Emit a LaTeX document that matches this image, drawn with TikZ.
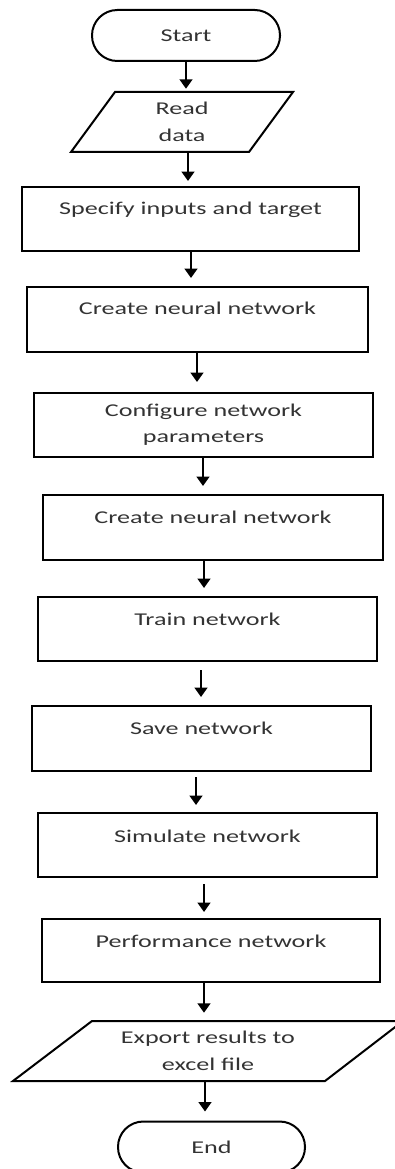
\documentclass[tikz,border=0pt]{standalone}
\usepackage{fontspec}
\setmainfont[FakeStretch=1.45]{Carlito}
\usetikzlibrary{arrows.meta}

\begin{document}
\begin{tikzpicture}[x=0.75pt,y=-0.75pt,
  txt/.style={font=\fontsize{13.5}{20}\selectfont, text=black!80},
  frame/.style={draw=black, line width=1.5pt},
  terminal/.style={txt, frame, rounded corners=19pt, minimum height=38.25pt, inner sep=0pt},
  stepbox/.style={txt, frame, anchor=base, inner ysep=0pt, text height=21pt, text depth=27pt},
  iotext/.style={txt, align=center, inner sep=0pt, minimum height=45pt},
  flow/.style={line width=1.5pt, -{Triangle[width=9.5pt,length=7pt]}},
  io/.style={line width=1.5pt, line join=miter}
]
\useasboundingbox (0,0) rectangle (395,1169);

% terminals
\node[terminal, minimum width=141pt] (start) at (186,35.5) {Start};
\node[terminal, minimum width=140.25pt] (end) at (211.5,1147) {End};

% input / output parallelograms
\node[iotext] (read) at (182,122) {Read\\data};
\draw[io] (115,92) -- (293,92) -- (249,152) -- (71,152) -- cycle;

\node[iotext] (export) at (208,1051) {Export results to\\[0.5pt]excel file};
\draw[io] (92,1021) -- (403,1021) -- (325,1081) -- (13,1081) -- cycle;

% process steps
\node[stepbox, minimum width=252.75pt] (spec) at (190.5,215) {Specify inputs and target};
\node[stepbox, minimum width=255.75pt, text height=20.25pt, text depth=28.5pt] (create1) at (197.5,314) {Create neural network};
\node[txt, frame, align=center, inner ysep=0pt, minimum width=254.25pt, minimum height=48pt,
      font=\fontsize{13.5}{19.5}\selectfont] (config) at (203.5,425) {Configure network\\parameters};
\node[stepbox, minimum width=255pt, text depth=27.75pt] (create2) at (213,523) {Create neural network};
\node[stepbox, minimum width=254.25pt] (train) at (207.5,625) {Train network};
\node[stepbox, minimum width=254.25pt, text depth=27.75pt] (save) at (201.5,734) {Save network};
\node[stepbox, minimum width=254.25pt, text height=21.75pt, text depth=26.25pt] (sim) at (207.5,842) {Simulate network};
\node[stepbox, minimum width=253.5pt, text depth=26.25pt] (perf) at (211,947) {Performance network};

% connectors
\draw[flow, shorten >=2.25pt] (start.south -| 186,0) -- (read.north -| 186,0);
\draw[flow, shorten >=3.75pt] (read.south -| 188,0) -- (spec.north -| 188,0);
\draw[flow, shorten >=6pt] (spec.south -| 191,0) -- (create1.north -| 191,0);
\draw[flow, shorten >=7.5pt] (create1.south -| 197,0) -- (config.north -| 197,0);
\draw[flow, shorten >=6pt] (config.south -| 203,0) -- (create2.north -| 203,0);
\draw[flow, shorten >=6pt] (create2.south -| 204,0) -- (train.north -| 204,0);
\draw[flow, shorten <=6pt, shorten >=6pt] (train.south -| 201,0) -- (save.north -| 201,0);
\draw[flow, shorten <=3.75pt, shorten >=5.25pt] (save.south -| 196,0) -- (sim.north -| 196,0);
\draw[flow, shorten <=4.5pt, shorten >=4.5pt] (sim.south -| 204,0) -- (perf.north -| 204,0);
\draw[flow, shorten >=6pt] (perf.south -| 204,0) -- (export.north -| 204,0);
\draw[flow, shorten >=6.75pt] (export.south -| 205,0) -- (end.north -| 205,0);
\end{tikzpicture}
\end{document}
